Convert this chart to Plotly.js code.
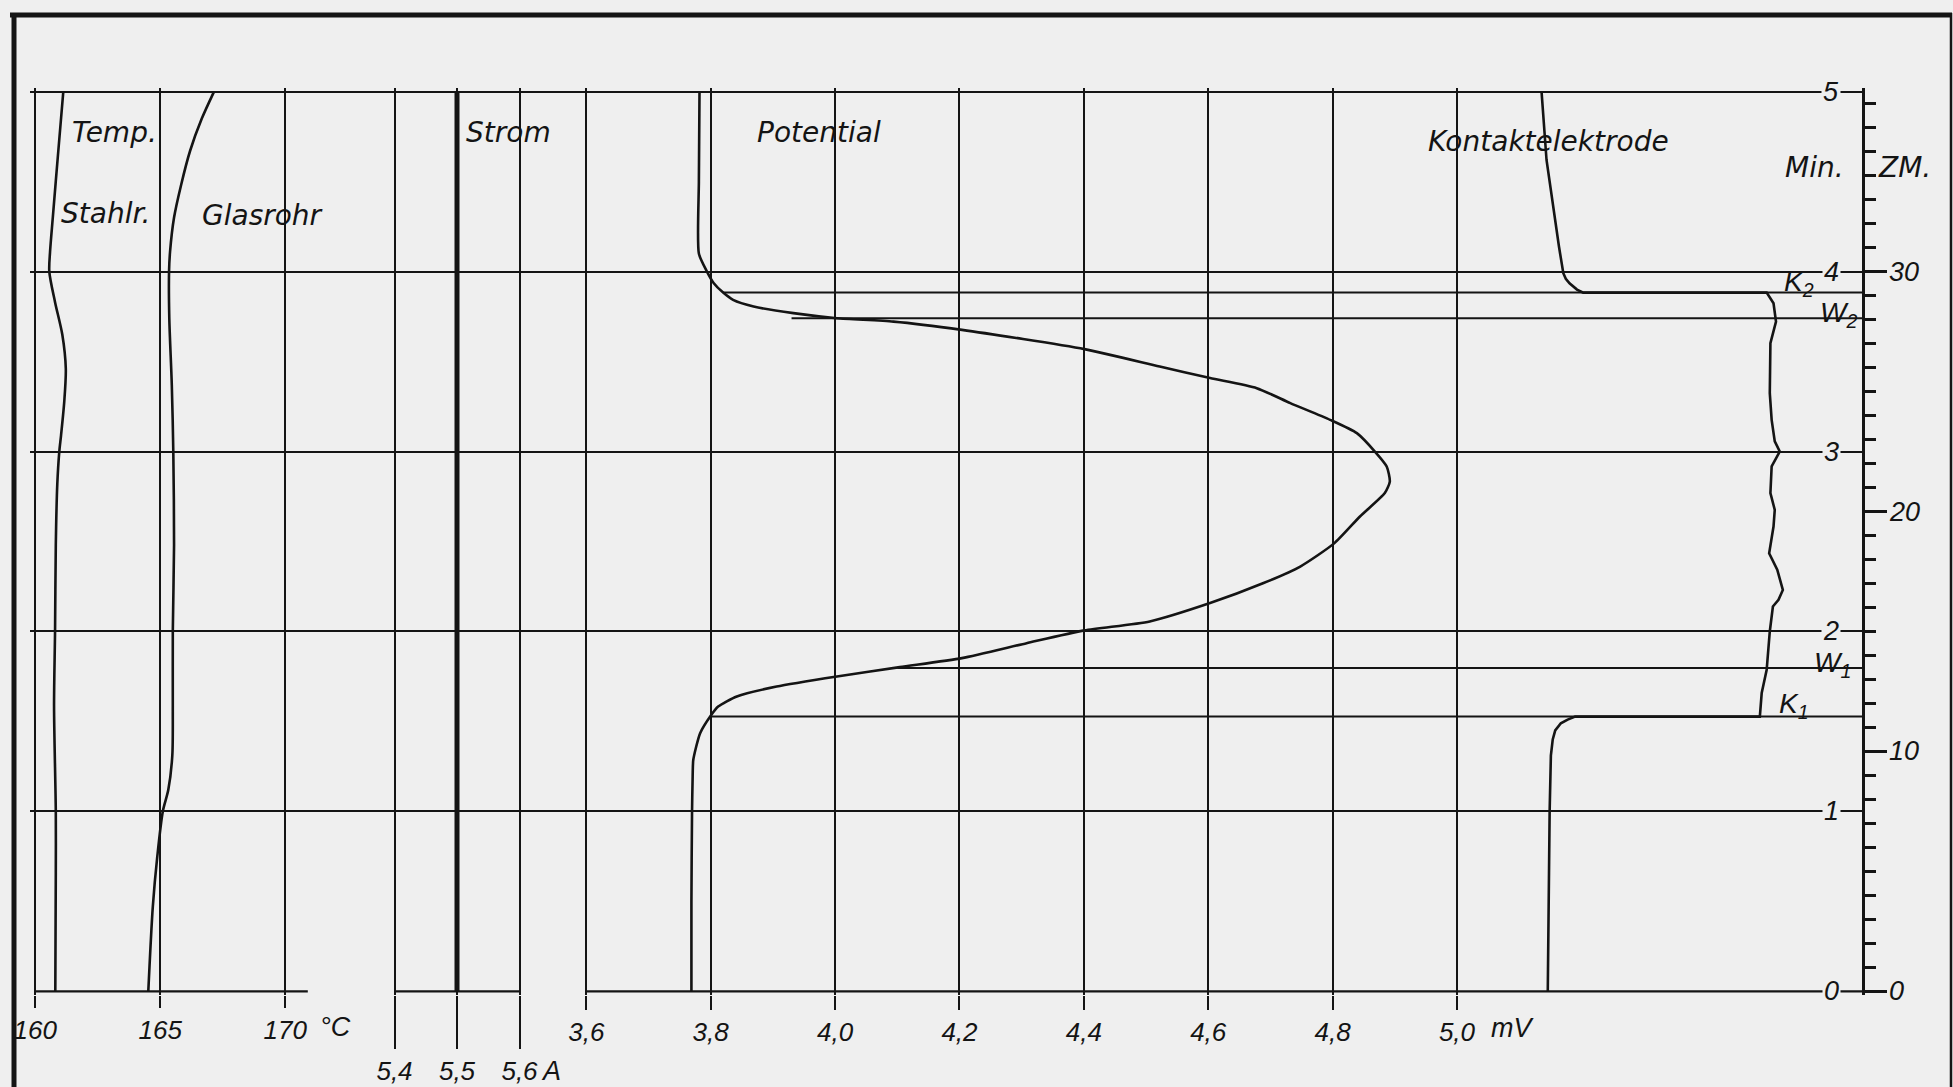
<!DOCTYPE html>
<html>
<head>
<meta charset="utf-8">
<script src="https://cdn.plot.ly/plotly-3.0.1.min.js"></script>
<style>
  html, body { margin: 0; padding: 0; background: #efefef; }
  #chart { width: 1953px; height: 1087px; }
</style>
</head>
<body>
<div id="chart"></div>
<script>
// ---------- data (time in minutes) ----------
const minutesStahl = [0, 0.66, 1.0, 1.585, 2.0, 2.48, 2.82, 3.0, 3.09, 3.28, 3.46, 3.65, 3.83, 4.0, 4.11, 4.30, 4.67, 5.0];
const tempStahl    = [160.80, 160.82, 160.82, 160.75, 160.79, 160.82, 160.88, 160.96, 161.03, 161.16, 161.22, 161.08, 160.79, 160.56, 160.59, 160.70, 160.92, 161.12];

const minutesGlas = [0, 0.47, 0.75, 1.0, 1.12, 1.31, 1.585, 2.0, 2.48, 3.0, 3.37, 3.74, 4.0, 4.11, 4.30, 4.48, 4.67, 4.85, 5.0];
const tempGlas    = [164.52, 164.70, 164.88, 165.10, 165.32, 165.48, 165.50, 165.50, 165.55, 165.52, 165.46, 165.36, 165.35, 165.39, 165.55, 165.83, 166.19, 166.66, 167.15];

const minutesStrom = [0, 5];
const strom        = [5.5, 5.5];

const minutesPot = [0, 0.5, 1.0, 1.2, 1.287, 1.435, 1.532, 1.583, 1.639, 1.694, 1.750, 1.802, 1.852, 1.935, 2.006, 2.056, 2.158, 2.269, 2.361, 2.491, 2.639, 2.769, 2.833, 2.917, 3.0, 3.102, 3.176, 3.269, 3.352, 3.408, 3.472, 3.569, 3.676, 3.722, 3.741, 3.769, 3.806, 3.843, 3.883, 3.935, 4.0, 4.1, 4.5, 5.0];
const potential  = [3.769, 3.769, 3.770, 3.771, 3.772, 3.783, 3.800, 3.812, 3.842, 3.906, 4.003, 4.104, 4.204, 4.308, 4.401, 4.506, 4.603, 4.689, 4.748, 4.803, 4.844, 4.884, 4.892, 4.887, 4.868, 4.839, 4.796, 4.732, 4.678, 4.603, 4.522, 4.401, 4.204, 4.094, 4.003, 3.933, 3.869, 3.836, 3.820, 3.805, 3.794, 3.781, 3.781, 3.782];

const minutesKontakt = [0, 0.5, 1.0, 1.31, 1.40, 1.45, 1.49, 1.51, 1.527, 1.527, 1.658, 1.787, 2.0, 2.139, 2.176, 2.231, 2.343, 2.435, 2.583, 2.676, 2.769, 2.917, 3.0, 3.056, 3.176, 3.324, 3.602, 3.722, 3.824, 3.883, 3.883, 3.90, 3.915, 3.935, 3.96, 3.991, 4.139, 4.343, 4.62, 5.0];
const kontakt        = [5.146, 5.147, 5.149, 5.151, 5.154, 5.158, 5.167, 5.178, 5.190, 5.487, 5.490, 5.498, 5.503, 5.508, 5.517, 5.524, 5.515, 5.502, 5.509, 5.511, 5.504, 5.506, 5.519, 5.511, 5.506, 5.503, 5.504, 5.513, 5.509, 5.498, 5.203, 5.193, 5.187, 5.181, 5.175, 5.171, 5.164, 5.155, 5.144, 5.136];

// marked instants K1, W1, W2, K2 (minutes) and where their lines start (mV)
const markNames   = ['K<sub>1</sub>', 'W<sub>1</sub>', 'W<sub>2</sub>', 'K<sub>2</sub>'];
const markMinutes = [1.527, 1.797, 3.741, 3.883];
const markStartMV = [3.80, 4.10, 3.93, 3.82];

// axis tick values
const tempTicks   = [160, 165, 170];
const stromTicks  = [5.4, 5.5, 5.6];
const potTicks    = [3.6, 3.8, 4.0, 4.2, 4.4, 4.6, 4.8, 5.0];
const minuteTicks = [0, 1, 2, 3, 4, 5];
const zmTicks     = [0, 10, 20, 30];

// ---------- layout geometry ----------
const W = 1953, H = 1087;
const L = 30, R = 1862, T = 88, B = 995;
const yRange = [-0.02, 5.02];
const zmPerMinute = 7.5;
const tempRange = [159.788, 233.068];
const stromRange = [4.8168, 7.748];
const potRange = [2.70544, 5.65128];

const INK = '#141414';
const BG = '#efefef';
const NUMFONT = 'Liberation Sans, Arial, sans-serif';
const TXTFONT = 'DejaVu Sans, Liberation Sans, sans-serif';
const ital = (size, fam) => ({ family: fam || NUMFONT, size: size, color: INK, style: 'italic' });
const px = (x) => (x - L) / (R - L);
const py = (y) => (B - y) / (B - T);

const traces = [
  { x: tempStahl, y: minutesStahl, xaxis: 'x', yaxis: 'y', mode: 'lines',
    line: { color: INK, width: 2.6, shape: 'spline', smoothing: 0.8 }, name: 'Stahlr.' },
  { x: tempGlas, y: minutesGlas, xaxis: 'x', yaxis: 'y', mode: 'lines',
    line: { color: INK, width: 2.6, shape: 'spline', smoothing: 0.8 }, name: 'Glasrohr' },
  { x: strom, y: minutesStrom, xaxis: 'x2', yaxis: 'y', mode: 'lines',
    line: { color: INK, width: 5 }, name: 'Strom' },
  { x: potential, y: minutesPot, xaxis: 'x3', yaxis: 'y', mode: 'lines',
    line: { color: INK, width: 2.6, shape: 'spline', smoothing: 0.6 }, name: 'Potential' },
  { x: kontakt, y: minutesKontakt, xaxis: 'x3', yaxis: 'y', mode: 'lines',
    line: { color: INK, width: 2.6 }, name: 'Kontaktelektrode' }
];

// horizontal lines of the marked instants
markMinutes.forEach((m, i) => {
  traces.push({ x: [markStartMV[i], potRange[1]], y: [m, m], xaxis: 'x3', yaxis: 'y',
    mode: 'lines', line: { color: INK, width: 2 }, hoverinfo: 'skip' });
});

const shapes = [
  // bottom (0 min) line, broken into the three scales
  { type: 'line', xref: 'x', yref: 'y', x0: tempTicks[0], x1: 170.9, y0: 0, y1: 0, line: { color: INK, width: 2.2 } },
  { type: 'line', xref: 'x2', yref: 'y', x0: stromTicks[0], x1: stromTicks[2], y0: 0, y1: 0, line: { color: INK, width: 2.2 } },
  { type: 'line', xref: 'x3', yref: 'y', x0: potTicks[0], x1: potRange[1], y0: 0, y1: 0, line: { color: INK, width: 2.2 } },
  // outer frame of the sheet
  { type: 'line', xref: 'paper', yref: 'paper', x0: px(10), x1: px(1952), y0: py(15), y1: py(15), line: { color: INK, width: 5 } },
  { type: 'line', xref: 'paper', yref: 'paper', x0: px(14), x1: px(14), y0: py(13), y1: py(1090), line: { color: INK, width: 5 } },
  { type: 'line', xref: 'paper', yref: 'paper', x0: px(1951), x1: px(1951), y0: py(13), y1: py(1090), line: { color: INK, width: 2.5 } }
];

const annotations = [];
function addText(text, x, y, size, fam) {
  annotations.push({ text: text, xref: 'paper', yref: 'paper', x: px(x), y: py(y),
    xanchor: 'center', yanchor: 'middle', showarrow: false, font: ital(size, fam) });
}
addText('Temp.', 114, 132, 28, TXTFONT);
addText('Stahlr.', 105, 214, 28, TXTFONT);
addText('Glasrohr', 262, 215, 28, TXTFONT);
addText('Strom', 508, 133, 28, TXTFONT);
addText('Potential', 819, 133, 28, TXTFONT);
addText('Kontaktelektrode', 1548, 141, 28, TXTFONT);
addText('Min.', 1814, 168, 28, TXTFONT);
addText('ZM.', 1905, 168, 28, TXTFONT);
addText('°C', 335, 1027, 27);
addText('A', 551, 1071, 27);
addText('mV', 1512, 1028, 27);

// minute labels on the time lines, with a gap in the line
minuteTicks.forEach((m) => {
  annotations.push({ text: String(m), xref: 'paper', yref: 'y', x: px(1841), y: m,
    xanchor: 'right', yanchor: 'middle', showarrow: false, font: ital(27),
    bgcolor: BG, borderpad: 1 });
});

// ZM labels right of the time axis
zmTicks.forEach((z) => {
  annotations.push({ text: String(z), xref: 'paper', yref: 'y2', x: px(1887), y: z,
    xanchor: 'left', yanchor: 'middle', showarrow: false, font: ital(27) });
});

// K / W labels
const markLabelX = [1777, 1812, 1818, 1782];
const markShift = [11, 4, 4, 9];
markMinutes.forEach((m, i) => {
  annotations.push({ text: markNames[i], xref: 'paper', yref: 'y', x: px(markLabelX[i]), y: m,
    xanchor: 'left', yanchor: 'middle', yshift: markShift[i], showarrow: false, font: ital(28) });
});

const xCommon = {
  showgrid: true, gridcolor: INK, gridwidth: 2, zeroline: false, showline: false,
  tickmode: 'array', ticks: 'outside', tickcolor: INK, tickwidth: 2,
  tickfont: ital(26), automargin: false, fixedrange: true
};

const layout = {
  width: W, height: H,
  margin: { l: L, r: W - R, t: T, b: H - B, pad: 0 },
  paper_bgcolor: BG, plot_bgcolor: BG,
  showlegend: false,
  separators: ',.',
  font: { family: NUMFONT, color: INK },
  xaxis: Object.assign({}, xCommon, { range: tempRange, tickvals: tempTicks, ticklen: 12,
    tickformat: 'd', anchor: 'y' }),
  xaxis2: Object.assign({}, xCommon, { range: stromRange, tickvals: stromTicks, ticklen: 53,
    tickformat: '.1f', overlaying: 'x', anchor: 'y' }),
  xaxis3: Object.assign({}, xCommon, { range: potRange, tickvals: potTicks, ticklen: 14,
    tickformat: '.1f', overlaying: 'x', anchor: 'y' }),
  yaxis: { range: yRange, tickmode: 'array', tickvals: minuteTicks.slice(1), showticklabels: false,
    ticks: '', showgrid: true, gridcolor: INK, gridwidth: 2, zeroline: false, showline: false,
    automargin: false, fixedrange: true },
  yaxis2: { range: [yRange[0] * zmPerMinute, yRange[1] * zmPerMinute], overlaying: 'y', side: 'right',
    anchor: 'x', showline: true, linecolor: INK, linewidth: 3, showgrid: false, zeroline: false,
    tickmode: 'array', tickvals: zmTicks, showticklabels: false,
    ticks: 'outside', ticklen: 22, tickwidth: 2.5, tickcolor: INK,
    automargin: false, fixedrange: true,
    minor: { tick0: 0, dtick: 1, ticks: 'outside', ticklen: 11, tickwidth: 2.5, tickcolor: INK, showgrid: false } },
  shapes: shapes,
  annotations: annotations
};

Plotly.newPlot('chart', traces, layout, { displayModeBar: false, staticPlot: true });
</script>
</body>
</html>
